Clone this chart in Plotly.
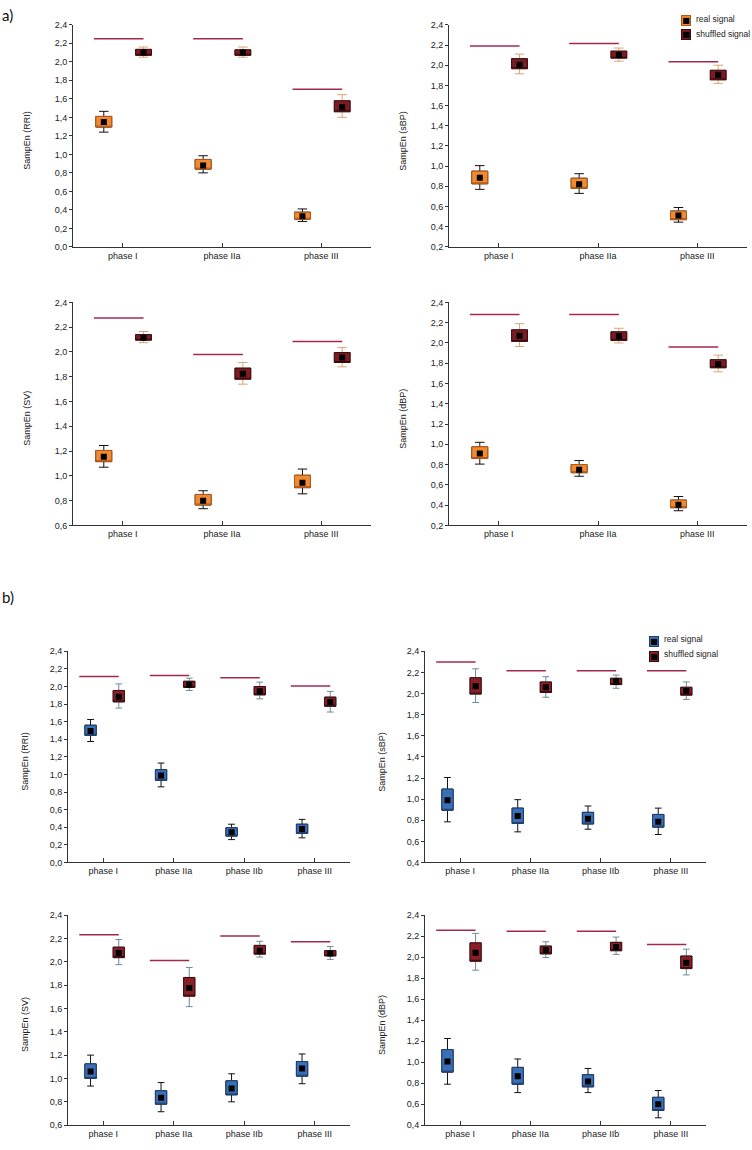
import plotly.graph_objects as go

# ---------------- data ----------------
PHASES_A = ["phase I", "phase IIa", "phase III"]
PHASES_B = ["phase I", "phase IIa", "phase IIb", "phase III"]
SIGNALS = ["real signal", "shuffled signal"]
YTITLES = ["SampEn (RRI)", "SampEn (sBP)", "SampEn (SV)", "SampEn (dBP)"]

# (a) RRI
A_RRI_REAL_MEAN = [1.35, 0.88, 0.33]
A_RRI_REAL_BOXLO = [1.295, 0.84, 0.30]
A_RRI_REAL_BOXHI = [1.41, 0.945, 0.375]
A_RRI_REAL_WLO = [1.24, 0.80, 0.275]
A_RRI_REAL_WHI = [1.465, 0.985, 0.41]
A_RRI_SHUF_MEAN = [2.10, 2.10, 1.51]
A_RRI_SHUF_BOXLO = [2.07, 2.07, 1.46]
A_RRI_SHUF_BOXHI = [2.135, 2.13, 1.58]
A_RRI_SHUF_WLO = [2.05, 2.05, 1.40]
A_RRI_SHUF_WHI = [2.16, 2.16, 1.645]
A_RRI_REF = [2.25, 2.25, 1.705]

# (a) sBP
A_SBP_REAL_MEAN = [0.885, 0.82, 0.51]
A_SBP_REAL_BOXLO = [0.825, 0.78, 0.47]
A_SBP_REAL_BOXHI = [0.95, 0.88, 0.555]
A_SBP_REAL_WLO = [0.77, 0.73, 0.445]
A_SBP_REAL_WHI = [1.005, 0.925, 0.59]
A_SBP_SHUF_MEAN = [2.005, 2.10, 1.905]
A_SBP_SHUF_BOXLO = [1.965, 2.07, 1.855]
A_SBP_SHUF_BOXHI = [2.065, 2.14, 1.95]
A_SBP_SHUF_WLO = [1.915, 2.04, 1.82]
A_SBP_SHUF_WHI = [2.11, 2.17, 2.0]
A_SBP_REF = [2.19, 2.215, 2.035]

# (a) SV
A_SV_REAL_MEAN = [1.155, 0.80, 0.945]
A_SV_REAL_BOXLO = [1.115, 0.765, 0.905]
A_SV_REAL_BOXHI = [1.205, 0.85, 1.005]
A_SV_REAL_WLO = [1.07, 0.735, 0.855]
A_SV_REAL_WHI = [1.245, 0.88, 1.055]
A_SV_SHUF_MEAN = [2.115, 1.825, 1.955]
A_SV_SHUF_BOXLO = [2.095, 1.78, 1.915]
A_SV_SHUF_BOXHI = [2.14, 1.87, 1.995]
A_SV_SHUF_WLO = [2.075, 1.74, 1.88]
A_SV_SHUF_WHI = [2.165, 1.915, 2.035]
A_SV_REF = [2.275, 1.98, 2.085]

# (a) dBP
A_DBP_REAL_MEAN = [0.91, 0.75, 0.405]
A_DBP_REAL_BOXLO = [0.86, 0.72, 0.375]
A_DBP_REAL_BOXHI = [0.975, 0.80, 0.45]
A_DBP_REAL_WLO = [0.805, 0.685, 0.345]
A_DBP_REAL_WHI = [1.02, 0.84, 0.485]
A_DBP_SHUF_MEAN = [2.07, 2.065, 1.79]
A_DBP_SHUF_BOXLO = [2.015, 2.025, 1.755]
A_DBP_SHUF_BOXHI = [2.13, 2.11, 1.835]
A_DBP_SHUF_WLO = [1.965, 2.0, 1.715]
A_DBP_SHUF_WHI = [2.19, 2.145, 1.88]
A_DBP_REF = [2.28, 2.28, 1.96]

# (b) RRI
B_RRI_REAL_MEAN = [1.495, 0.99, 0.345, 0.38]
B_RRI_REAL_BOXLO = [1.445, 0.935, 0.30, 0.33]
B_RRI_REAL_BOXHI = [1.56, 1.055, 0.395, 0.435]
B_RRI_REAL_WLO = [1.375, 0.86, 0.26, 0.28]
B_RRI_REAL_WHI = [1.625, 1.13, 0.435, 0.49]
B_RRI_SHUF_MEAN = [1.885, 2.02, 1.945, 1.825]
B_RRI_SHUF_BOXLO = [1.825, 1.99, 1.905, 1.775]
B_RRI_SHUF_BOXHI = [1.955, 2.06, 2.0, 1.88]
B_RRI_SHUF_WLO = [1.755, 1.955, 1.86, 1.71]
B_RRI_SHUF_WHI = [2.03, 2.095, 2.05, 1.945]
B_RRI_REF = [2.115, 2.125, 2.10, 2.005]

# (b) sBP
B_SBP_REAL_MEAN = [0.99, 0.84, 0.815, 0.785]
B_SBP_REAL_BOXLO = [0.895, 0.77, 0.765, 0.735]
B_SBP_REAL_BOXHI = [1.095, 0.915, 0.875, 0.855]
B_SBP_REAL_WLO = [0.785, 0.69, 0.715, 0.665]
B_SBP_REAL_WHI = [1.205, 0.995, 0.935, 0.915]
B_SBP_SHUF_MEAN = [2.07, 2.06, 2.115, 2.025]
B_SBP_SHUF_BOXLO = [1.995, 2.01, 2.085, 1.985]
B_SBP_SHUF_BOXHI = [2.15, 2.11, 2.145, 2.06]
B_SBP_SHUF_WLO = [1.915, 1.965, 2.05, 1.945]
B_SBP_SHUF_WHI = [2.235, 2.16, 2.175, 2.11]
B_SBP_REF = [2.30, 2.215, 2.215, 2.215]

# (b) SV
B_SV_REAL_MEAN = [1.06, 0.835, 0.915, 1.085]
B_SV_REAL_BOXLO = [1.0, 0.78, 0.86, 1.02]
B_SV_REAL_BOXHI = [1.125, 0.895, 0.98, 1.145]
B_SV_REAL_WLO = [0.935, 0.715, 0.80, 0.955]
B_SV_REAL_WHI = [1.20, 0.965, 1.04, 1.21]
B_SV_SHUF_MEAN = [2.075, 1.775, 2.095, 2.07]
B_SV_SHUF_BOXLO = [2.035, 1.705, 2.065, 2.05]
B_SV_SHUF_BOXHI = [2.125, 1.865, 2.14, 2.095]
B_SV_SHUF_WLO = [1.975, 1.615, 2.04, 2.02]
B_SV_SHUF_WHI = [2.19, 1.95, 2.175, 2.13]
B_SV_REF = [2.23, 2.01, 2.22, 2.17]

# (b) dBP
B_DBP_REAL_MEAN = [1.005, 0.865, 0.815, 0.60]
B_DBP_REAL_BOXLO = [0.905, 0.79, 0.765, 0.54]
B_DBP_REAL_BOXHI = [1.12, 0.95, 0.88, 0.665]
B_DBP_REAL_WLO = [0.79, 0.71, 0.71, 0.47]
B_DBP_REAL_WHI = [1.225, 1.03, 0.94, 0.73]
B_DBP_SHUF_MEAN = [2.04, 2.065, 2.095, 1.945]
B_DBP_SHUF_BOXLO = [1.96, 2.03, 2.06, 1.89]
B_DBP_SHUF_BOXHI = [2.135, 2.105, 2.14, 2.01]
B_DBP_SHUF_WLO = [1.875, 1.995, 2.025, 1.83]
B_DBP_SHUF_WHI = [2.225, 2.145, 2.19, 2.075]
B_DBP_REF = [2.255, 2.245, 2.245, 2.12]

# y-axis minimum of each panel
YMIN = [0.0, 0.2, 0.6, 0.2, 0.0, 0.4, 0.6, 0.4]

# ---------------- styling ----------------
W, H = 752, 1150
FONT = "Liberation Sans, Arial, sans-serif"
ORANGE, ORANGE_EDGE = "#F28B30", "#B4581A"
BLUE, BLUE_EDGE = "#3A70B8", "#1E3F70"
DARKRED_A, DARKRED_EDGE = "#7A1C24", "#3A0A0E"
DARKRED_B = "#8A2027"
REF_COLOR = "#A3284C"

panels = [
    dict(phases=PHASES_A, title=YTITLES[0], ref=A_RRI_REF,
         real=(A_RRI_REAL_MEAN, A_RRI_REAL_BOXLO, A_RRI_REAL_BOXHI, A_RRI_REAL_WLO, A_RRI_REAL_WHI),
         shuf=(A_RRI_SHUF_MEAN, A_RRI_SHUF_BOXLO, A_RRI_SHUF_BOXHI, A_RRI_SHUF_WLO, A_RRI_SHUF_WHI)),
    dict(phases=PHASES_A, title=YTITLES[1], ref=A_SBP_REF,
         real=(A_SBP_REAL_MEAN, A_SBP_REAL_BOXLO, A_SBP_REAL_BOXHI, A_SBP_REAL_WLO, A_SBP_REAL_WHI),
         shuf=(A_SBP_SHUF_MEAN, A_SBP_SHUF_BOXLO, A_SBP_SHUF_BOXHI, A_SBP_SHUF_WLO, A_SBP_SHUF_WHI)),
    dict(phases=PHASES_A, title=YTITLES[2], ref=A_SV_REF,
         real=(A_SV_REAL_MEAN, A_SV_REAL_BOXLO, A_SV_REAL_BOXHI, A_SV_REAL_WLO, A_SV_REAL_WHI),
         shuf=(A_SV_SHUF_MEAN, A_SV_SHUF_BOXLO, A_SV_SHUF_BOXHI, A_SV_SHUF_WLO, A_SV_SHUF_WHI)),
    dict(phases=PHASES_A, title=YTITLES[3], ref=A_DBP_REF,
         real=(A_DBP_REAL_MEAN, A_DBP_REAL_BOXLO, A_DBP_REAL_BOXHI, A_DBP_REAL_WLO, A_DBP_REAL_WHI),
         shuf=(A_DBP_SHUF_MEAN, A_DBP_SHUF_BOXLO, A_DBP_SHUF_BOXHI, A_DBP_SHUF_WLO, A_DBP_SHUF_WHI)),
    dict(phases=PHASES_B, title=YTITLES[0], ref=B_RRI_REF,
         real=(B_RRI_REAL_MEAN, B_RRI_REAL_BOXLO, B_RRI_REAL_BOXHI, B_RRI_REAL_WLO, B_RRI_REAL_WHI),
         shuf=(B_RRI_SHUF_MEAN, B_RRI_SHUF_BOXLO, B_RRI_SHUF_BOXHI, B_RRI_SHUF_WLO, B_RRI_SHUF_WHI)),
    dict(phases=PHASES_B, title=YTITLES[1], ref=B_SBP_REF,
         real=(B_SBP_REAL_MEAN, B_SBP_REAL_BOXLO, B_SBP_REAL_BOXHI, B_SBP_REAL_WLO, B_SBP_REAL_WHI),
         shuf=(B_SBP_SHUF_MEAN, B_SBP_SHUF_BOXLO, B_SBP_SHUF_BOXHI, B_SBP_SHUF_WLO, B_SBP_SHUF_WHI)),
    dict(phases=PHASES_B, title=YTITLES[2], ref=B_SV_REF,
         real=(B_SV_REAL_MEAN, B_SV_REAL_BOXLO, B_SV_REAL_BOXHI, B_SV_REAL_WLO, B_SV_REAL_WHI),
         shuf=(B_SV_SHUF_MEAN, B_SV_SHUF_BOXLO, B_SV_SHUF_BOXHI, B_SV_SHUF_WLO, B_SV_SHUF_WHI)),
    dict(phases=PHASES_B, title=YTITLES[3], ref=B_DBP_REF,
         real=(B_DBP_REAL_MEAN, B_DBP_REAL_BOXLO, B_DBP_REAL_BOXHI, B_DBP_REAL_WLO, B_DBP_REAL_WHI),
         shuf=(B_DBP_SHUF_MEAN, B_DBP_SHUF_BOXLO, B_DBP_SHUF_BOXHI, B_DBP_SHUF_WLO, B_DBP_SHUF_WHI)),
]

# pixel rectangles of plot areas (left, top, right, bottom)
RECTS = [(73, 20, 371, 244), (449, 20, 747, 244), (73, 300, 371, 525), (449, 300, 747, 525),
         (68, 652, 350, 865), (425, 652, 706, 865), (68, 918, 350, 1130), (425, 918, 706, 1130)]
TITLE_X = [27, 403, 27, 403, 25, 382, 25, 382]

fig = go.Figure()
layout = dict(
    width=W, height=H, margin=dict(l=0, r=0, t=0, b=0),
    paper_bgcolor="white", plot_bgcolor="white",
    showlegend=False, boxmode="overlay", separators=",.",
    font=dict(family=FONT, size=9, color="#222"),
)
annotations = []

for k, p in enumerate(panels):
    idx = "" if k == 0 else str(k + 1)
    xa, ya = "x" + idx, "y" + idx
    is_b = k >= 4
    n = len(p["phases"])
    off_r, off_s = (-0.18, 0.22) if is_b else (-0.19, 0.21)
    ref_l, ref_r = (-0.34, 0.22) if is_b else (-0.29, 0.21)
    fill_r, edge_r = (BLUE, BLUE_EDGE) if is_b else (ORANGE, ORANGE_EDGE)
    fill_s = DARKRED_B if is_b else DARKRED_A
    wh_s = "#6F8A9A" if is_b else "#D6A676"

    for (label, stats, off, fill, edge, whc) in [
        (SIGNALS[0], p["real"], off_r, fill_r, edge_r, "#111111"),
        (SIGNALS[1], p["shuf"], off_s, fill_s, DARKRED_EDGE, wh_s),
    ]:
        mean, lo, hi, wlo, whi = stats
        xs = [i + off for i in range(n)]
        # whiskers
        fig.add_trace(go.Box(
            name=label, x=xs, q1=lo, median=lo, q3=hi, lowerfence=wlo, upperfence=whi,
            orientation="v", width=0.16, whiskerwidth=0.6, boxpoints=False,
            line=dict(color=whc, width=1), fillcolor=fill,
            hoverinfo="skip", xaxis=xa, yaxis=ya))
        # box
        fig.add_trace(go.Box(
            name=label, x=xs, q1=lo, median=lo, q3=hi, lowerfence=lo, upperfence=hi,
            orientation="v", width=0.16, whiskerwidth=0, boxpoints=False,
            line=dict(color=edge, width=1), fillcolor=fill,
            hoverinfo="skip", xaxis=xa, yaxis=ya))
        # mean
        fig.add_trace(go.Scatter(
            name=label, x=xs, y=mean, mode="markers",
            marker=dict(symbol="square", size=6, color="black"),
            hoverinfo="skip", xaxis=xa, yaxis=ya))

    # reference lines
    lx, ly = [], []
    for i, r in enumerate(p["ref"]):
        lx += [i + ref_l, i + ref_r, None]
        ly += [r, r, None]
    fig.add_trace(go.Scatter(x=lx, y=ly, mode="lines",
                             line=dict(color=REF_COLOR, width=1.5),
                             hoverinfo="skip", xaxis=xa, yaxis=ya))

    L, T, R, B = RECTS[k]
    layout["xaxis" + idx] = dict(
        domain=[L / W, R / W], anchor=ya, range=[-0.5, n - 0.5],
        tickvals=list(range(n)), ticktext=p["phases"],
        showline=True, linecolor="#333", linewidth=1, mirror=False,
        ticks="inside", ticklen=4, tickcolor="#333",
        showgrid=False, zeroline=False, fixedrange=True,
        tickfont=dict(size=9, color="#222", family=FONT))
    layout["yaxis" + idx] = dict(
        domain=[1 - B / H, 1 - T / H], anchor=xa, range=[YMIN[k], 2.4],
        tick0=0, dtick=0.2, tickformat=".1f",
        showline=True, linecolor="#333", linewidth=1,
        ticks="outside", ticklen=3, tickcolor="#333",
        showgrid=False, zeroline=False, fixedrange=True,
        tickfont=dict(size=9, color="#222", family=FONT))
    annotations.append(dict(
        text=p["title"], xref="paper", yref="paper",
        x=TITLE_X[k] / W, y=1 - ((T + B) / 2 + 5) / H,
        xanchor="center", yanchor="middle", textangle=-90, showarrow=False,
        font=dict(size=9, color="#222", family=FONT)))

# legend keys: swatch (coloured box with the black mean marker) + label
legend_specs = [
    (SIGNALS[0], ORANGE, ORANGE_EDGE, 686, 16, 694, 14),
    (SIGNALS[1], DARKRED_A, DARKRED_EDGE, 686, 30, 694, 29),
    (SIGNALS[0], BLUE, BLUE_EDGE, 654, 642, 662, 640),
    (SIGNALS[1], DARKRED_B, DARKRED_EDGE, 654, 657, 662, 655),
]
for label, fill, edge, sx, sy, tx, ty in legend_specs:
    annotations.append(dict(
        text="■", xref="paper", yref="paper", x=sx / W, y=1 - sy / H,
        xanchor="center", yanchor="middle", showarrow=False,
        width=8, height=9, borderpad=0, borderwidth=1,
        bgcolor=fill, bordercolor=edge,
        font=dict(size=8, color="black", family="DejaVu Sans")))
    annotations.append(dict(
        text=label, xref="paper", yref="paper", x=tx / W, y=1 - ty / H,
        xanchor="left", yanchor="middle", showarrow=False,
        font=dict(size=8.5, color="#222", family=FONT)))

annotations.append(dict(text="a)", xref="paper", yref="paper", x=0, y=1 - 10 / H,
                        xanchor="left", yanchor="middle", showarrow=False,
                        font=dict(size=15, color="#111", family="Lato, sans-serif")))
annotations.append(dict(text="b)", xref="paper", yref="paper", x=0, y=1 - 597 / H,
                        xanchor="left", yanchor="middle", showarrow=False,
                        font=dict(size=15, color="#111", family="Lato, sans-serif")))
layout["annotations"] = annotations

fig.update_layout(**layout)
# remove the browser's default 8px page margin so the 752x1150 figure fills the window
fig.write_html("out.html",
               config={"displayModeBar": False, "staticPlot": True},
               post_script="document.body.style.margin='0';document.body.style.overflow='hidden';")
